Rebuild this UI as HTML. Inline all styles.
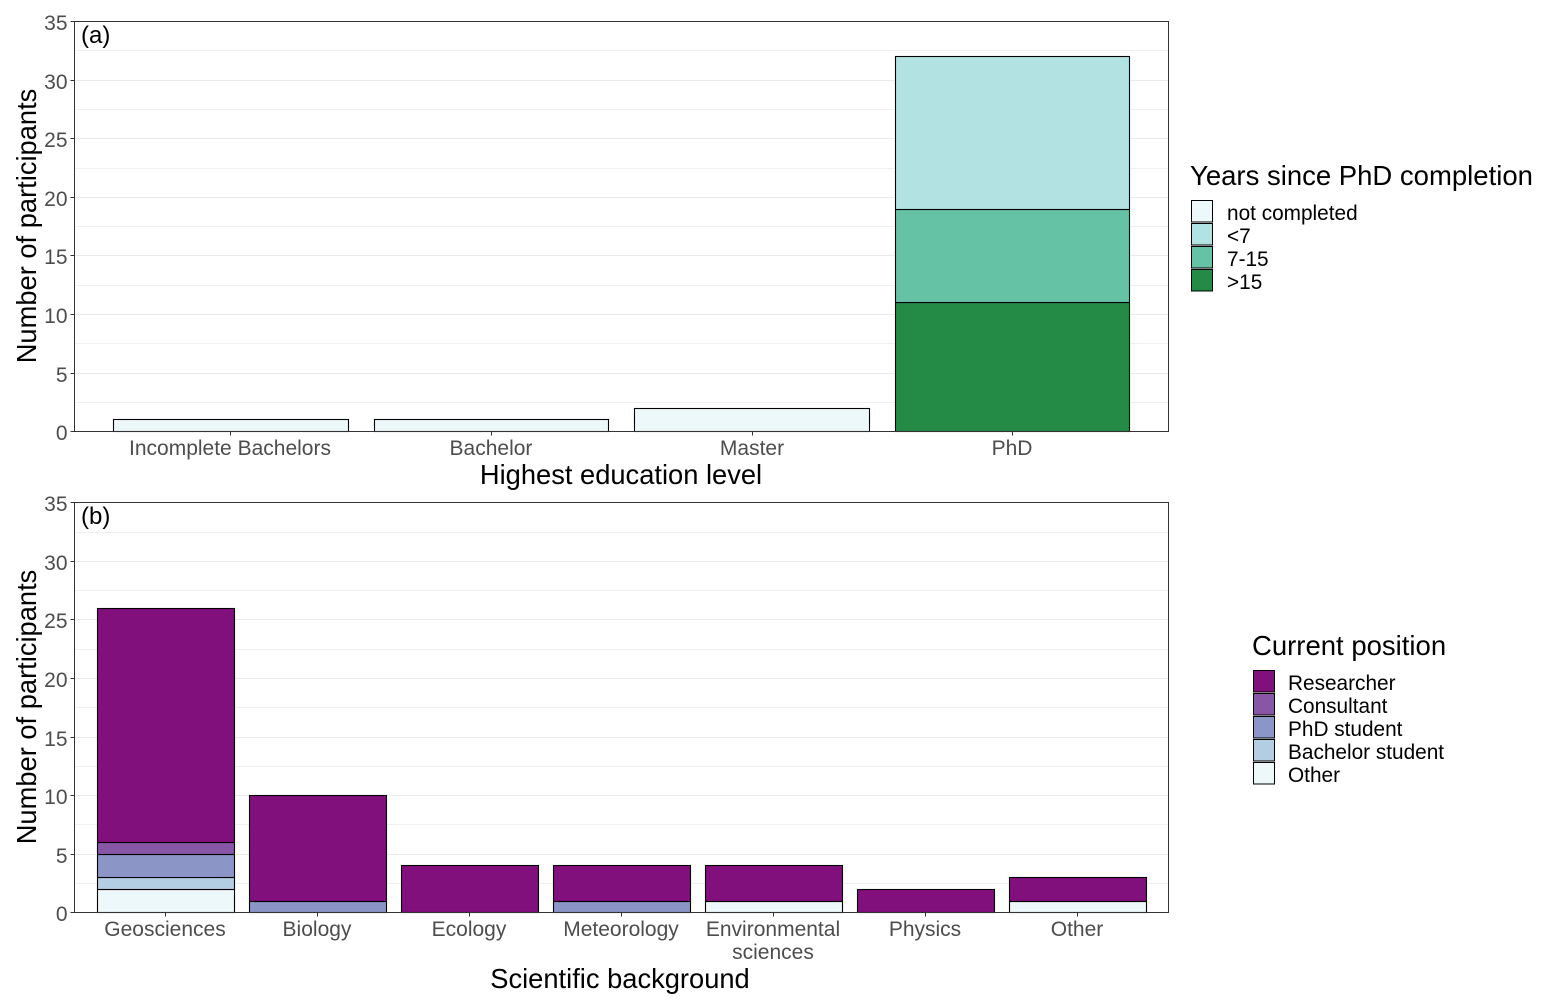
<!DOCTYPE html>
<html lang="en">
<head>
<meta charset="utf-8">
<title>Participants by education level and scientific background</title>
<style>
html,body{margin:0;padding:0;background:#fff;width:1546px;height:1008px;overflow:hidden}
svg{display:block;font-family:"Liberation Sans",Arial,sans-serif}
.tick{font-size:21px;fill:#4d4d4d}
.title{font-size:27.3px;fill:#000}
.ltitle{font-size:27.5px;fill:#000}
.ltext{font-size:20.8px;fill:#000}
.tag{font-size:24px;fill:#000}
</style>
</head>
<body>
<svg id="chart" width="1546" height="1008" viewBox="0 0 1546 1008" xmlns="http://www.w3.org/2000/svg">
  <g id="panel-a"></g>
  <g id="panel-b"></g>

  <text class="tag" x="81" y="43">(a)</text>
  <text class="tag" x="81" y="524">(b)</text>

  <text class="title" x="621" y="484" text-anchor="middle">Highest education level</text>
  <text class="title" x="620" y="988" text-anchor="middle">Scientific background</text>
  <text class="title" transform="translate(36 226) rotate(-90)" text-anchor="middle">Number of participants</text>
  <text class="title" transform="translate(36 707) rotate(-90)" text-anchor="middle">Number of participants</text>

  <g>
    <text class="ltitle" x="1190" y="185">Years since PhD completion</text>
    <rect x="1191.5" y="200.5" width="21" height="21.5" fill="#EDF8FB" stroke="#000"/>
    <rect x="1191.5" y="223.5" width="21" height="21.5" fill="#B2E2E2" stroke="#000"/>
    <rect x="1191.5" y="246.5" width="21" height="21.5" fill="#66C2A4" stroke="#000"/>
    <rect x="1191.5" y="269.5" width="21" height="21.5" fill="#238B45" stroke="#000"/>
    <text class="ltext" x="1227" y="220">not completed</text>
    <text class="ltext" x="1227" y="243">&lt;7</text>
    <text class="ltext" x="1227" y="266">7-15</text>
    <text class="ltext" x="1227" y="289">&gt;15</text>
  </g>

  <g>
    <text class="ltitle" x="1252" y="655">Current position</text>
    <rect x="1253.5" y="670.5" width="21" height="21.5" fill="#810F7C" stroke="#000"/>
    <rect x="1253.5" y="693.5" width="21" height="21.5" fill="#8856A7" stroke="#000"/>
    <rect x="1253.5" y="716.5" width="21" height="21.5" fill="#8C96C6" stroke="#000"/>
    <rect x="1253.5" y="739.5" width="21" height="21.5" fill="#B3CDE3" stroke="#000"/>
    <rect x="1253.5" y="762.5" width="21" height="21.5" fill="#EDF8FB" stroke="#000"/>
    <text class="ltext" x="1288" y="690">Researcher</text>
    <text class="ltext" x="1288" y="713">Consultant</text>
    <text class="ltext" x="1288" y="736">PhD student</text>
    <text class="ltext" x="1288" y="759">Bachelor student</text>
    <text class="ltext" x="1288" y="782">Other</text>
  </g>
</svg>

<script>
// Shared y axis
var yTickValues = [0, 5, 10, 15, 20, 25, 30, 35];
var yMinorValues = [2.5, 7.5, 12.5, 17.5, 22.5, 27.5, 32.5];

// Panel (a): highest education level
var educationCategories = ["Incomplete Bachelors", "Bachelor", "Master", "PhD"];
var notCompleted = [1, 1, 2, 0];
var under7 = [0, 0, 0, 13];
var from7to15 = [0, 0, 0, 8];
var over15 = [0, 0, 0, 11];

// Panel (b): scientific background
var backgroundCategories = [["Geosciences"], ["Biology"], ["Ecology"], ["Meteorology"], ["Environmental", "sciences"], ["Physics"], ["Other"]];
var other = [2, 0, 0, 0, 1, 0, 1];
var bachelorStudent = [1, 0, 0, 0, 0, 0, 0];
var phdStudent = [2, 1, 0, 1, 0, 0, 0];
var consultant = [1, 0, 0, 0, 0, 0, 0];
var researcher = [20, 9, 4, 3, 3, 2, 2];

var NS = 'http://www.w3.org/2000/svg';

function make(parent, tag, attrs, text) {
  var el = document.createElementNS(NS, tag);
  for (var k in attrs) el.setAttribute(k, attrs[k]);
  if (text !== undefined) el.textContent = text;
  parent.appendChild(el);
  return el;
}

function snap(v) { return Math.floor(v) + 0.5; }

function drawPanel(rootId, box, categories, stacks) {
  var root = document.getElementById(rootId);
  var n = categories.length;
  var yScale = function (v) { return box.base - v * 410 / 35; };
  var band = (1169 - box.left) / (n + 0.2);
  var xScale = function (i) { return box.left + band * (i + 0.6); };

  yMinorValues.forEach(function (v) {
    var el = make(root, 'line', {x1: box.left, x2: box.right, y1: snap(yScale(v)), y2: snap(yScale(v)), stroke: '#efefef', 'stroke-width': 1});
    
    
  });
  yTickValues.forEach(function (v) {
    var el = make(root, 'line', {x1: box.left, x2: box.right, y1: snap(yScale(v)), y2: snap(yScale(v)), stroke: '#ebebeb', 'stroke-width': 1});
    
    
  });

  categories.forEach(function (cat, i) {
    var cum = 0;
    stacks.forEach(function (s) {
      var v = s.values[i];
      if (!v) return;
      var y0 = snap(yScale(cum));
      var y1 = snap(yScale(cum + v));
      var w = band * 0.9;
      var x0 = snap(xScale(i) + box.barShift - w / 2);
      var x1 = snap(xScale(i) + box.barShift + w / 2);
      var bar = make(root, 'rect', {x: x0, y: y1, width: x1 - x0, height: y0 - y1, fill: s.color, stroke: '#000', 'stroke-width': 1.1});
      
      
      cum += v;
    });
  });

  var border = make(root, 'rect', {x: box.left, y: box.top, width: box.right - box.left, height: box.bottom - box.top, fill: 'none', stroke: '#333', 'stroke-width': 1});
  
  

  yTickValues.forEach(function (v) {
    var y = snap(yScale(v));
    var tick = make(root, 'line', {x1: box.left - 4, x2: box.left, y1: y, y2: y, stroke: '#333', 'stroke-width': 1});
    
    
    var label = make(root, 'text', {x: box.left - 7, y: y + 8.5, 'text-anchor': 'end', 'class': 'tick'}, String(v));
    
    
  });

  categories.forEach(function (cat, i) {
    var x = snap(xScale(i));
    var tick = make(root, 'line', {x1: x, x2: x, y1: box.bottom, y2: box.bottom + 4, stroke: '#333', 'stroke-width': 1});
    
    
    var lines = Array.isArray(cat) ? cat : [cat];
    lines.forEach(function (line, j) {
      var label = make(root, 'text', {x: x - 0.5, y: box.bottom + 23.5 + j * 23, 'text-anchor': 'middle', 'class': 'tick'}, line);
      
      
    });
  });
}

drawPanel('panel-a', {left: 74.5, right: 1168.5, top: 21.5, bottom: 431.5, base: 431.6, barShift: 0}, educationCategories, [
  {key: 'over-15', values: over15, color: '#238B45'},
  {key: '7-15', values: from7to15, color: '#66C2A4'},
  {key: 'under-7', values: under7, color: '#B2E2E2'},
  {key: 'not-completed', values: notCompleted, color: '#EDF8FB'}
]);

drawPanel('panel-b', {left: 74.5, right: 1168.5, top: 502.5, bottom: 912.5, base: 912.8, barShift: 0.4}, backgroundCategories, [
  {key: 'other', values: other, color: '#EDF8FB'},
  {key: 'bachelor-student', values: bachelorStudent, color: '#B3CDE3'},
  {key: 'phd-student', values: phdStudent, color: '#8C96C6'},
  {key: 'consultant', values: consultant, color: '#8856A7'},
  {key: 'researcher', values: researcher, color: '#810F7C'}
]);
</script>
</body>
</html>
